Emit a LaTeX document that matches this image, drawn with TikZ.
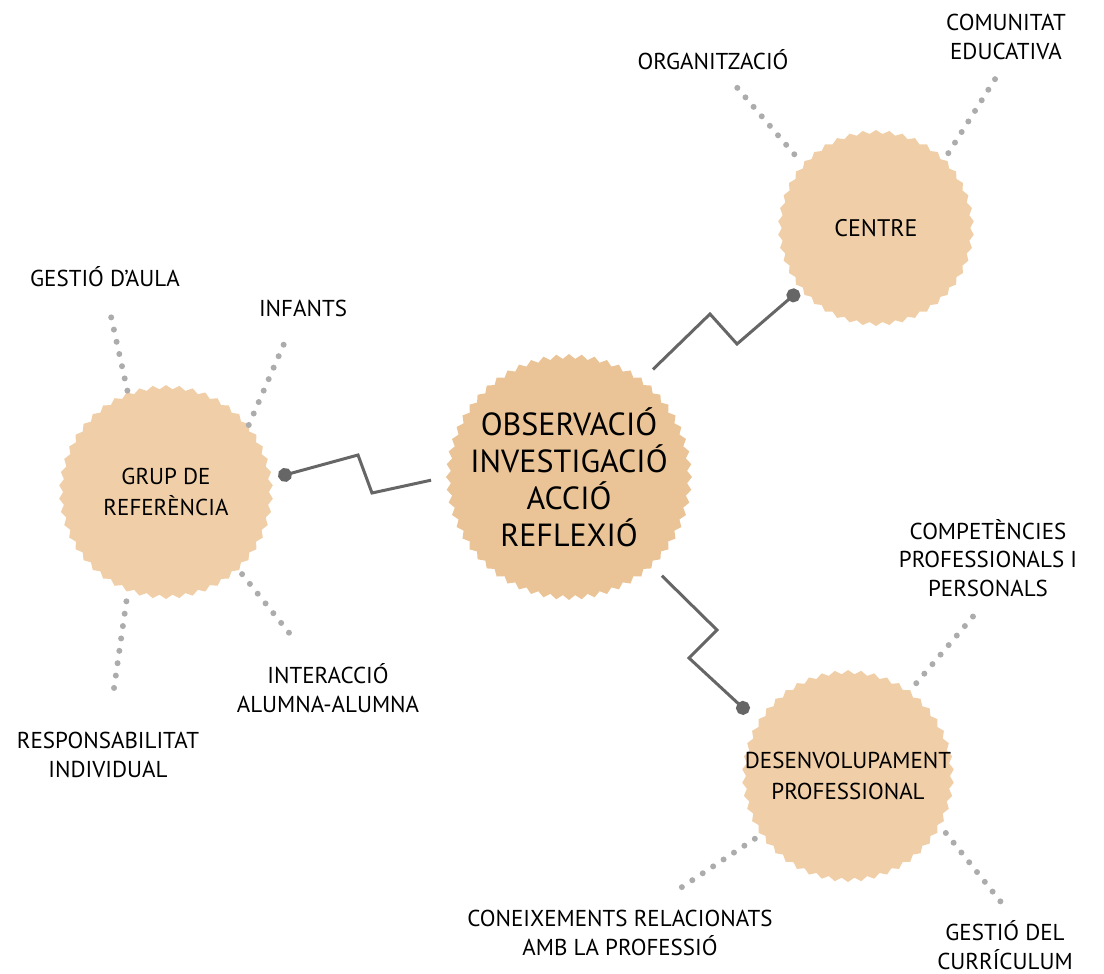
\documentclass[tikz,border=0pt]{standalone}
\usepackage{fontspec}
\setmainfont{PT Sans}
\usepackage{tikz}
\usepackage{xcolor}
\usetikzlibrary{shapes.geometric,arrows.meta}
\definecolor{peach-light}{RGB}{240,207,168}
\definecolor{peach-dark}{RGB}{234,196,150}
\definecolor{dot-gray}{RGB}{172,172,172}
\definecolor{link-gray}{RGB}{102,102,102}
\tikzset{
    serrated-circle/.style = {star, star points=50, star point ratio=1.04, fill=peach-light, inner sep=0pt},
    circle-text/.style = {align=center, inner sep=0pt, font=\fontsize{23}{31}\selectfont},
    core-text/.style = {align=center, inner sep=0pt, font=\fontsize{32}{37}\selectfont},
    topic-label/.style = {align=center, inner sep=2pt, font=\fontsize{23}{28.5}\selectfont},
    dotted-link/.style = {draw=dot-gray, line width=6pt, line cap=round, dash pattern=on 0pt off 12.5pt},
    zigzag-link/.style = {draw=link-gray, line width=3pt, -{Circle[length=14pt]}},
}

\begin{document}
\begin{tikzpicture}[x=1pt,y=-1pt]
\useasboundingbox (0,0) rectangle (1104,974);

% circles
\node [serrated-circle, star points=60, fill=peach-dark, minimum size=246pt,
    label={[core-text]center:OBSERVACIÓ\\INVESTIGACIÓ\\ACCIÓ\\REFLEXIÓ}] (core) at (569,477) {};
\node [serrated-circle, minimum size=196pt, star points=46,
    label={[circle-text, font=\fontsize{24}{31}\selectfont]center:CENTRE}] (centre) at (876,228) {};
\node [serrated-circle, minimum size=214pt,
    label={[circle-text]center:GRUP DE\\REFERÈNCIA}] (grup) at (166,492) {};
\node [serrated-circle, minimum size=212pt,
    label={[circle-text]center:DESENVOLUPAMENT\\PROFESSIONAL}] (desenv) at (848,776) {};

% labels
\node [topic-label] (organitzacio) at (713,60) {ORGANITZACIÓ};
\node [topic-label] (comunitat) at (1006,37) {COMUNITAT\\EDUCATIVA};
\node [topic-label] (gestio-aula) at (105,277) {GESTIÓ D'AULA};
\node [topic-label] (infants) at (303,308) {INFANTS};
\node [topic-label] (interaccio) at (328,688) {INTERACCIÓ\\ALUMNA-ALUMNA};
\node [topic-label] (responsabilitat) at (108,755) {RESPONSABILITAT\\INDIVIDUAL};
\node [topic-label] (competencies) at (988,558) {COMPETÈNCIES\\PROFESSIONALS I\\PERSONALS};
\node [topic-label] (coneixements) at (620,933) {CONEIXEMENTS RELACIONATS\\AMB LA PROFESSIÓ};
\node [topic-label] (curriculum) at (1005,945) {GESTIÓ DEL\\CURRÍCULUM};

% zigzag links
\draw [zigzag-link, shorten <=15pt, shorten >=10pt] (core.180) -- (372,493) -- (358,455) -- (grup.7);
\draw [zigzag-link, shorten <=15pt, shorten >=5pt] (core.53) -- (710,314) -- (737,344) -- (centre.219);
\draw [zigzag-link, shorten <=14pt, shorten >=14pt] (core.313) -- (717,630) -- (689,658) -- (desenv.149);

% dotted links
\draw [dotted-link, shorten <=2pt, shorten >=20pt] (grup.111) -- (gestio-aula.south);
\draw [dotted-link, shorten >=23pt] (grup.39) -- ([xshift=-8pt]infants.south);
\draw [dotted-link, shorten <=10pt, shorten >=34pt] (grup.249) -- (responsabilitat.north);
\draw [dotted-link, shorten <=5pt, shorten >=36pt] (grup.313) -- ([xshift=-16pt]interaccio.north);
\draw [dotted-link, shorten <=14pt, shorten >=15pt] (centre.139) -- ([xshift=11pt]organitzacio.south);
\draw [dotted-link, shorten <=8pt, shorten >=19pt] (centre.45) -- (comunitat.south);
\draw [dotted-link, shorten <=9pt, shorten >=23pt] (desenv.54) -- (competencies.south);
\draw [dotted-link, shorten <=8pt, shorten >=34pt] (desenv.214) -- ([xshift=30pt]coneixements.north);
\draw [dotted-link, shorten <=11pt, shorten >=19pt] (desenv.332) -- ([xshift=9pt]curriculum.north);
\end{tikzpicture}
\end{document}
